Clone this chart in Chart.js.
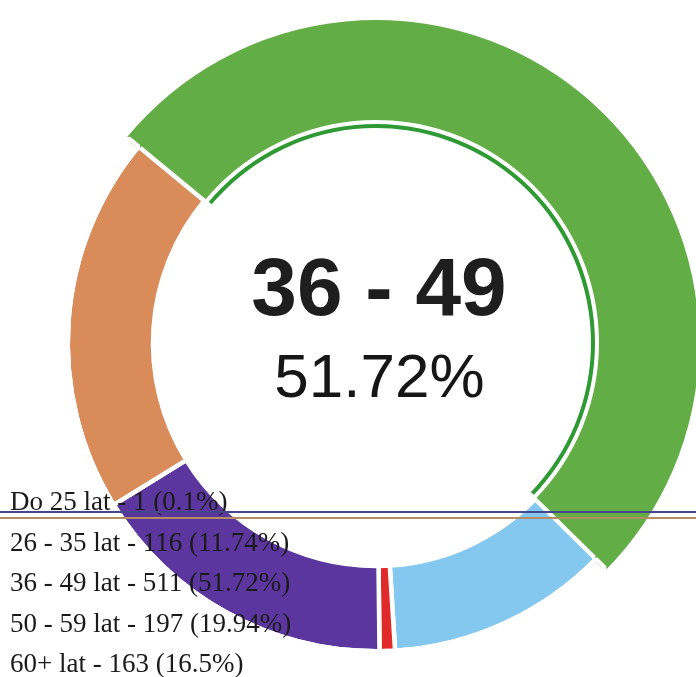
<!DOCTYPE html>
<html>
<head>
<meta charset="utf-8">
<script src="https://cdn.jsdelivr.net/npm/chart.js@4.4.1/dist/chart.umd.min.js"></script>
<style>
  body { margin: 0; width: 696px; height: 677px; overflow: hidden; background: #fff; position: relative; }
  #wykres { position: absolute; left: 0; top: 0; }
  .srodek1 { position: absolute; left: 0; width: 758px; top: 246px; text-align: center;
             font: bold 82px "Liberation Sans", Arial, sans-serif; line-height: 82px; color: #1e1e1e; }
  .srodek2 { position: absolute; left: 0; width: 759px; top: 345px; text-align: center;
             font: 62px "Liberation Sans", Arial, sans-serif; line-height: 62px; color: #161616; }
  #legenda { position: absolute; left: 10px; top: 481px; font: 27px "Liberation Serif", "Times New Roman", serif;
             line-height: 40.5px; color: #1a1a1a; white-space: nowrap; }
  .kreska { position: absolute; left: 0; width: 696px; height: 2px; }
</style>
</head>
<body>
<canvas id="wykres" width="752" height="686"></canvas>
<div class="srodek1" id="etykieta"></div>
<div class="srodek2" id="procent"></div>
<div id="legenda"></div>
<div class="kreska" style="top:511px;background:#46468c"></div>
<div class="kreska" style="top:517px;background:#b48c62"></div>
<script>
// Dane (kolejnosc jak w legendzie)
const etykiety = ['Do 25 lat', '26 - 35 lat', '36 - 49 lat', '50 - 59 lat', '60+ lat'];
const liczby = [1, 116, 511, 197, 163];
const procenty = ['0.1', '11.74', '51.72', '19.94', '16.5'];
// najmniejszy wycinek jest na obrazku szerszy niz 0.1%, wiec rysujemy go tak jak widac
const wartosciLukow = [8, 116, 511, 197, 163];
const kolory = ['#e02a2a', '#84c8ef', '#63ad47', '#d98b59', '#5a369e'];
const kolorCienki = '#2f9a34';

// kolejnosc rysowania zgodnie z ruchem wskazowek zegara, od lewej gory
const kolejnosc = [2, 1, 0, 4, 3];
const aktywny = 2;
const napisSrodek = '36 - 49';

const przezroczysty = 'rgba(0,0,0,0)';
const ramka = 4.5;

const lab = kolejnosc.map(i => etykiety[i]);
const val = kolejnosc.map(i => wartosciLukow[i]);
const kol = kolejnosc.map(i => kolory[i]);
const akt = kolejnosc.map(i => i === aktywny);

new Chart(document.getElementById('wykres').getContext('2d'), {
    type: 'doughnut',
    data: {
        labels: lab,
        datasets: [
            { // zewnetrzne poszerzenie aktywnego wycinka
                data: val, weight: 12.5,
                backgroundColor: akt.map(a => a ? kolory[aktywny] : przezroczysty),
                borderColor: akt.map(a => a ? kolory[aktywny] : '#fff'),
                borderWidth: ramka
            },
            { // glowny pierscien (aktywny bez ramki, zeby nie bylo szwu)
                data: val, weight: 85.25,
                backgroundColor: kol, borderColor: '#fff',
                borderWidth: akt.map(a => a ? 0 : ramka)
            },
            { // przerwa
                data: val, weight: 4,
                backgroundColor: przezroczysty, borderWidth: 0
            },
            { // cienki luk pod aktywnym wycinkiem
                data: val, weight: 4,
                backgroundColor: akt.map(a => a ? kolorCienki : przezroczysty),
                borderColor: '#fff',
                borderWidth: akt.map(a => a ? 0 : ramka)
            }
        ]
    },
    options: {
        responsive: false,
        animation: false,
        events: [],
        rotation: -50.4,
        radius: 320.75,
        cutout: (215 / 320.75 * 100) + '%',
        plugins: { legend: { display: false }, tooltip: { enabled: false } }
    }
});

// Napisy w srodku
document.getElementById('etykieta').textContent = napisSrodek;
document.getElementById('procent').textContent = procenty[aktywny] + '%';

// Legenda tekstowa
document.getElementById('legenda').innerHTML = etykiety
    .map((e, i) => '<div>' + e + ' - ' + liczby[i] + ' (' + procenty[i] + '%)</div>')
    .join('');
</script>
</body>
</html>
